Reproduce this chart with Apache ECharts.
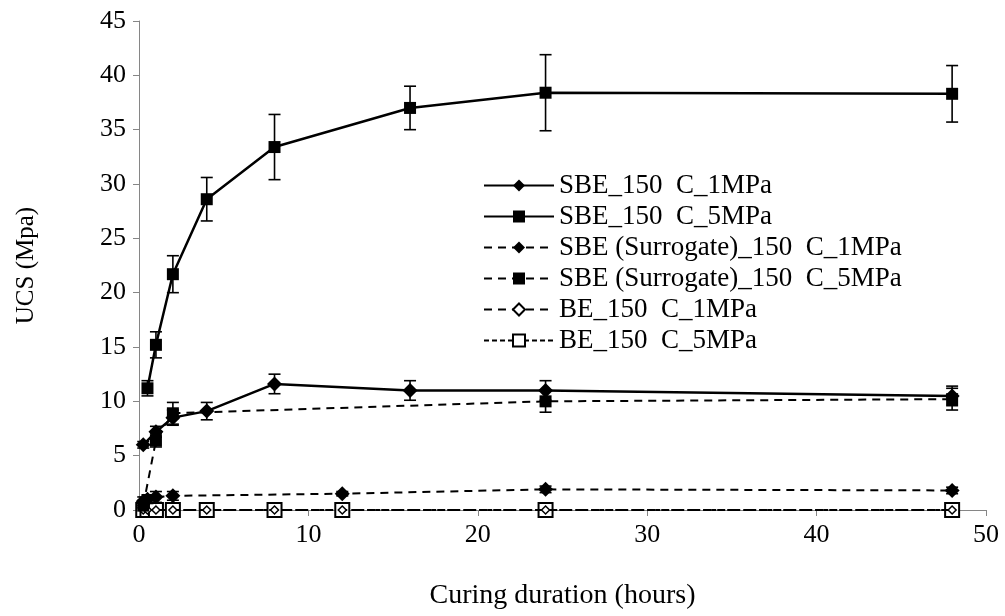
<!DOCTYPE html>
<html>
<head>
<meta charset="utf-8">
<title>UCS vs curing duration</title>
<script src="https://cdn.jsdelivr.net/npm/echarts@6/dist/echarts.min.js"></script>
<style>
  html, body { margin: 0; padding: 0; background: #fff; }
  #chart { width: 1005px; height: 616px; }
</style>
</head>
<body>
<div id="chart"></div>
<script>
// curing hours and UCS (MPa)
const sbe1Hours = [0.25, 1, 2, 4, 8, 16, 24, 48]
const sbe1Ucs = [6.0, 7.2, 8.5, 9.1, 11.6, 11.0, 11.0, 10.5]
const sbe1Err = [0.3, 0.5, 0.7, 0.8, 0.9, 0.9, 0.9, 0.9]

const sbe5Hours = [0.5, 1, 2, 4, 8, 16, 24, 48]
const sbe5Ucs = [11.2, 15.2, 21.7, 28.6, 33.4, 37.0, 38.4, 38.3]
const sbe5Err = [0.7, 1.2, 1.7, 2.0, 3.0, 2.0, 3.5, 2.6]

const surr1Hours = [0.25, 0.5, 1, 2, 12, 24, 48]
const surr1Ucs = [0.8, 1.0, 1.2, 1.3, 1.5, 1.9, 1.8]
const surr1Err = [0.4, 0.4, 0.5, 0.4, 0.2, 0.3, 0.3]

const surr5Hours = [0.25, 1, 2, 24, 48]
const surr5Ucs = [0.4, 6.4, 8.9, 10.0, 10.2]
const surr5Err = [0.2, 0.6, 1.0, 1.0, 1.0]

const beHours = [0.25, 0.5, 1, 2, 4, 8, 12, 24, 48]
const be1Ucs = [0, 0, 0, 0, 0, 0, 0, 0, 0]
const be5Ucs = [0, 0, 0, 0, 0, 0, 0, 0, 0]

const seriesNames = [
  'SBE_150  C_1MPa',
  'SBE_150  C_5MPa',
  'SBE (Surrogate)_150  C_1MPa',
  'SBE (Surrogate)_150  C_5MPa',
  'BE_150  C_1MPa',
  'BE_150  C_5MPa'
]

const xTicks = { min: 0, max: 50, interval: 10 }
const yTicks = { min: 0, max: 45, interval: 5 }

const FONT = '"Liberation Serif", "DejaVu Serif", serif'

const pairs = (xs, ys) => xs.map((x, i) => [x, ys[i]])
const errRows = (xs, ys, es) => xs.map((x, i) => [x, ys[i] - es[i], ys[i] + es[i]])

const errorBars = [
  ...errRows(sbe1Hours, sbe1Ucs, sbe1Err),
  ...errRows(sbe5Hours, sbe5Ucs, sbe5Err),
  ...errRows(surr1Hours, surr1Ucs, surr1Err),
  ...errRows(surr5Hours, surr5Ucs, surr5Err)
]

const renderErrorBar = (params, api) => {
  const top = api.coord([api.value(0), api.value(2)])
  const bottom = api.coord([api.value(0), api.value(1)])
  const cap = 6
  const style = { stroke: '#000', lineWidth: 1.6 }
  return {
    type: 'group',
    children: [
      { type: 'line', shape: { x1: top[0], y1: top[1], x2: bottom[0], y2: bottom[1] }, style },
      { type: 'line', shape: { x1: top[0] - cap, y1: top[1], x2: top[0] + cap, y2: top[1] }, style },
      { type: 'line', shape: { x1: bottom[0] - cap, y1: bottom[1], x2: bottom[0] + cap, y2: bottom[1] }, style }
    ]
  }
}

const lineSeries = (name, data, opts) => ({
  name,
  type: 'line',
  data,
  symbol: opts.symbol,
  symbolSize: opts.size,
  showAllSymbol: true,
  animation: false,
  z: opts.z,
  lineStyle: { color: '#000', width: opts.width, type: opts.dash || 'solid' },
  itemStyle: {
    color: opts.fill || '#000',
    borderColor: '#000',
    borderWidth: opts.border || 0
  },
  emphasis: { disabled: true }
})

const chart = echarts.init(document.getElementById('chart'), null, { renderer: 'canvas' })

chart.setOption({
  backgroundColor: '#fff',
  textStyle: { fontFamily: FONT, color: '#000' },
  grid: { left: 139, right: 19, top: 21, bottom: 106, containLabel: false },
  legend: {
    data: seriesNames,
    orient: 'vertical',
    left: 483,
    top: 172,
    padding: 0,
    itemWidth: 70,
    itemHeight: 15,
    itemGap: 4,
    selectedMode: false,
    textStyle: { fontFamily: FONT, fontSize: 27, color: '#000' }
  },
  xAxis: {
    type: 'value',
    min: xTicks.min,
    max: xTicks.max,
    interval: xTicks.interval,
    name: 'Curing duration (hours)',
    nameLocation: 'middle',
    nameGap: 72,
    nameTextStyle: { fontFamily: FONT, fontSize: 28, color: '#000' },
    axisLine: { show: true, lineStyle: { color: '#868686', width: 1 } },
    axisTick: { show: true, inside: false, length: 6, lineStyle: { color: '#868686' } },
    axisLabel: { fontFamily: FONT, fontSize: 26, color: '#000', margin: 12 },
    splitLine: { show: false }
  },
  yAxis: {
    type: 'value',
    min: yTicks.min,
    max: yTicks.max,
    interval: yTicks.interval,
    name: 'UCS (Mpa)',
    nameLocation: 'middle',
    nameGap: 100,
    nameTextStyle: { fontFamily: FONT, fontSize: 25, color: '#000' },
    axisLine: { show: true, lineStyle: { color: '#868686', width: 1 } },
    axisTick: { show: true, inside: false, length: 6, lineStyle: { color: '#868686' } },
    axisLabel: { fontFamily: FONT, fontSize: 26, color: '#000', margin: 13 },
    splitLine: { show: false }
  },
  series: [
    lineSeries(seriesNames[5], pairs(beHours, be5Ucs), { symbol: 'rect', size: 14, fill: '#fff', border: 2, width: 2, dash: [5, 3], z: 2 }),
    lineSeries(seriesNames[4], pairs(beHours, be1Ucs), { symbol: 'diamond', size: 8, fill: '#fff', border: 1.5, width: 2, dash: [8, 6], z: 3 }),
    lineSeries(seriesNames[2], pairs(surr1Hours, surr1Ucs), { symbol: 'diamond', size: 15, width: 2, dash: [8, 6], z: 4 }),
    lineSeries(seriesNames[3], pairs(surr5Hours, surr5Ucs), { symbol: 'rect', size: 12, width: 2, dash: [8, 6], z: 4 }),
    lineSeries(seriesNames[0], pairs(sbe1Hours, sbe1Ucs), { symbol: 'diamond', size: 15, width: 2.5, z: 5 }),
    lineSeries(seriesNames[1], pairs(sbe5Hours, sbe5Ucs), { symbol: 'rect', size: 12, width: 2.5, z: 5 }),
    {
      name: 'error',
      type: 'custom',
      renderItem: renderErrorBar,
      data: errorBars,
      encode: { x: 0, y: [1, 2] },
      animation: false,
      silent: true,
      z: 6
    }
  ]
})
</script>
</body>
</html>
